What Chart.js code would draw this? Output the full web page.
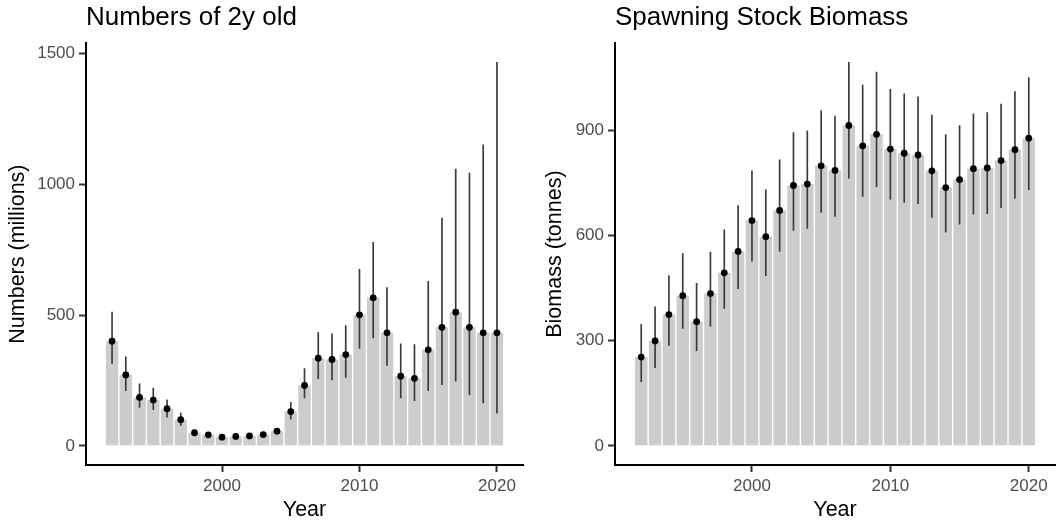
<!DOCTYPE html>
<html><head><meta charset="utf-8">
<script src="https://cdn.jsdelivr.net/npm/chart.js@4"></script>
<style>
html,body{margin:0;padding:0;background:#fff;}
#wrap{position:relative;width:1062px;height:527px;overflow:hidden;background:#fff;}
canvas{position:absolute;top:0;}
</style></head><body>
<div id="wrap">
<canvas id="c1" width="531" height="527" style="left:0"></canvas>
<canvas id="c2" width="531" height="527" style="left:531px"></canvas>
</div>
<script>
const years = [1992,1993,1994,1995,1996,1997,1998,1999,2000,2001,2002,2003,2004,2005,2006,2007,2008,2009,2010,2011,2012,2013,2014,2015,2016,2017,2018,2019,2020];

const recruits      = [400,271,185,175,142,100,50,42,33,36,38,43,56,131,231,335,330,349,501,566,432,266,258,367,453,511,453,432,432];
const recruitsLow   = [315,211,147,138,110,78,44,37,29,31,33,37,48,102,183,257,252,262,372,413,307,183,173,211,234,247,196,164,125];
const recruitsHigh  = [511,340,237,221,176,125,57,48,38,41,44,50,66,166,295,433,428,460,675,778,605,390,387,629,871,1058,1043,1151,1466];

const ssb      = [253,299,374,428,354,434,493,554,642,596,671,742,746,798,785,913,855,888,846,834,829,784,736,759,790,792,813,844,877];
const ssbLow   = [183,223,286,335,271,341,392,448,526,485,554,614,620,665,654,763,711,739,703,694,690,651,609,632,660,662,679,705,730];
const ssbHigh  = [346,396,485,548,463,552,616,685,784,730,815,893,898,955,940,1093,1028,1065,1016,1003,995,943,887,913,946,950,974,1010,1050];

const xTicks = [2000,2010,2020];
const leftYTicks = [0,500,1000,1500];
const rightYTicks = [0,300,600,900];

const FONT = '"Liberation Sans", Arial, Helvetica, sans-serif';

function makePanel(id, p) {
  const yMax = Math.max(...p.upper);
  const yExp = yMax * 0.05;
  const xMin = Math.min(...years) - 0.45, xMax = Math.max(...years) + 0.45;
  const xExp = (xMax - xMin) * 0.05;
  return new Chart(document.getElementById(id), {
    type: 'bar',
    data: {
      datasets: [
        { type: 'line', data: years.map((y, i) => ({x: y, y: p.values[i]})), showLine: false,
          pointRadius: 3.4, pointBackgroundColor: '#000', pointBorderColor: '#000', pointBorderWidth: 0, order: 0 },
        { type: 'bar', data: years.map((y, i) => ({x: y, y: [p.lower[i], p.upper[i]]})),
          backgroundColor: '#3a3a3a', barThickness: 1, grouped: false, order: 1 },
        { type: 'bar', data: years.map((y, i) => ({x: y, y: p.values[i]})),
          backgroundColor: '#CCCCCC', barPercentage: 0.9, categoryPercentage: 1, grouped: false, order: 2 }
      ]
    },
    options: {
      responsive: false, animation: false, devicePixelRatio: 1,
      layout: { padding: { left: 0, right: p.padRight, top: 0, bottom: 0 } },
      plugins: {
        legend: { display: false }, tooltip: { enabled: false },
        title: { display: true, text: p.title, align: 'start', fullSize: false, color: '#000',
          font: { family: FONT, size: 26, weight: 'normal' }, padding: { top: 2, bottom: 10 } }
      },
      scales: {
        x: {
          type: 'linear', offset: false, min: xMin - xExp, max: xMax + xExp,
          grid: { display: true, offset: false, drawOnChartArea: false, drawTicks: true, tickLength: 7, tickColor: '#333', tickWidth: 2 },
          border: { display: true, color: '#000', width: 2 },
          ticks: { color: '#4D4D4D', font: { family: FONT, size: 17 }, padding: 4, maxRotation: 0, autoSkip: false,
            callback: v => String(v) },
          afterBuildTicks: s => { s.ticks = xTicks.map(v => ({ value: v })); },
          afterFit: s => { s.height = 62; },
          title: { display: true, text: 'Year', color: '#000', font: { family: FONT, size: 21.5 }, padding: { top: 0, bottom: 4 } }
        },
        y: {
          type: 'linear', min: -yExp, max: yMax + yExp,
          grid: { display: true, drawOnChartArea: false, drawTicks: true, tickLength: 7, tickColor: '#333', tickWidth: 2 },
          border: { display: true, color: '#000', width: 2 },
          ticks: { color: '#4D4D4D', font: { family: FONT, size: 17 }, padding: 4, autoSkip: false,
            callback: v => String(v) },
          afterBuildTicks: s => { s.ticks = p.yTicks.map(v => ({ value: v })); },
          afterFit: s => { s.width = p.yWidth; },
          title: { display: true, text: p.yTitle, color: '#000', font: { family: FONT, size: 21.5 }, padding: { top: p.yTitlePad, bottom: 0 } }
        }
      }
    }
  });
}

makePanel('c1', { title: 'Numbers of 2y old', yTitle: 'Numbers (millions)', values: recruits, lower: recruitsLow, upper: recruitsHigh,
  yTicks: leftYTicks, yWidth: 86, padRight: 8, yTitlePad: 5 });
makePanel('c2', { title: 'Spawning Stock Biomass', yTitle: 'Biomass (tonnes)', values: ssb, lower: ssbLow, upper: ssbHigh,
  yTicks: rightYTicks, yWidth: 84, padRight: 7, yTitlePad: 11.5 });
</script>
</body></html>
